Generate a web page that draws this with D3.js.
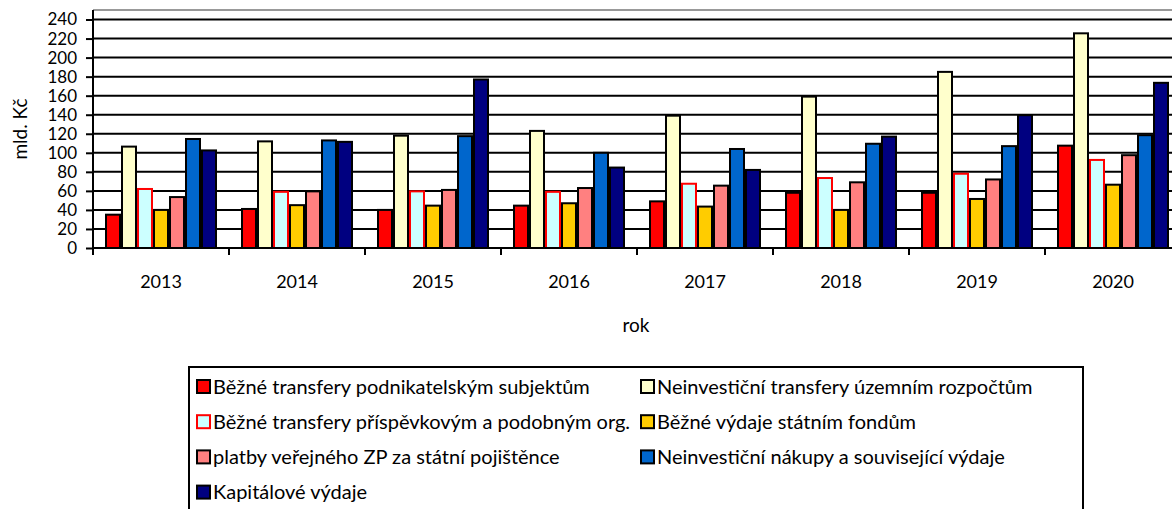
<!DOCTYPE html>
<html>
<head>
<meta charset="utf-8">
<script src="https://cdn.jsdelivr.net/npm/d3@7"></script>
<style>
  body { margin: 0; background: #fff; }
  text { font-family: Lato, "Open Sans", sans-serif; fill: #000; }
</style>
</head>
<body>
<div id="chart"></div>
<script>
// data (mld. Kč)
var years = ["2013", "2014", "2015", "2016", "2017", "2018", "2019", "2020"];
var seriesNames = [
  "Běžné transfery podnikatelským subjektům",
  "Neinvestiční transfery územním rozpočtům",
  "Běžné transfery příspěvkovým a podobným org.",
  "Běžné výdaje státním fondům",
  "platby veřejného ZP za státní pojištěnce",
  "Neinvestiční nákupy a související výdaje",
  "Kapitálové výdaje"
];
var bezneTransferyPodnik = [35, 41, 40, 44.5, 49, 58, 58, 107.5];
var neinvTransferyUzemni = [106.5, 112, 118, 123, 139, 159, 185, 225.5];
var bezneTransferyPrisp  = [62, 59, 59.5, 59, 67.5, 73.5, 78, 92.5];
var bezneVydajeFondy     = [40, 45, 44.5, 47, 43.5, 40, 51.5, 66.5];
var platbyZP             = [53.5, 59.5, 61, 63, 65.5, 69, 72, 97.5];
var neinvNakupy          = [114.5, 113, 117.5, 100, 104, 109.5, 107, 118.5];
var kapitaloveVydaje     = [102.5, 111.5, 177, 84.5, 82, 117, 139.5, 173.5];
var yTicks = [0, 20, 40, 60, 80, 100, 120, 140, 160, 180, 200, 220, 240];

var seriesValues = [bezneTransferyPodnik, neinvTransferyUzemni, bezneTransferyPrisp,
  bezneVydajeFondy, platbyZP, neinvNakupy, kapitaloveVydaje];
var fills   = ["#FF0000", "#FFFFCC", "#CCFFFF", "#FFCC00", "#FF8080", "#0066CC", "#000080"];
var strokes = ["#000", "#000", "#FF0000", "#000", "#000", "#000", "#000"];

var width = 1172, height = 509;
var plot = {left: 93, top: 10, bottom: 248, catW: 136};

var svg = d3.select("#chart").append("svg")
    .attr("width", width)
    .attr("height", height);

var x = d3.scaleBand()
    .domain(years)
    .range([plot.left, plot.left + plot.catW * years.length]);

var xs = d3.scaleBand()
    .domain(d3.range(seriesNames.length))
    .range([12, plot.catW - 12]);

var y = d3.scaleLinear()
    .domain([0, 250])
    .range([plot.bottom, plot.top]);

// plot top border
svg.append("line")
    .attr("x1", plot.left).attr("x2", width)
    .attr("y1", plot.top).attr("y2", plot.top)
    .attr("stroke", "#999").attr("stroke-width", 2);

// gridlines
svg.append("g").selectAll("line")
    .data(yTicks.filter(d => d > 0))
    .enter().append("line")
    .attr("x1", plot.left).attr("x2", width)
    .attr("y1", d => y(d)).attr("y2", d => y(d))
    .attr("stroke", "#000").attr("stroke-width", 2);

// bars
var groups = svg.append("g").selectAll("g")
    .data(seriesValues)
    .enter().append("g");

groups.selectAll("rect")
    .data((vals, si) => vals.map((v, i) => ({v: v, i: i, s: si})))
    .enter().append("rect")
    .attr("x", d => x(years[d.i]) + xs(d.s) + 1)
    .attr("y", d => y(d.v))
    .attr("width", xs.bandwidth() - 2)
    .attr("height", d => y(0) - y(d.v))
    .attr("fill", d => fills[d.s])
    .attr("stroke", d => strokes[d.s])
    .attr("stroke-width", 2);

// y axis
var yAxis = svg.append("g")
    .attr("transform", "translate(" + plot.left + ",0)")
    .call(d3.axisLeft(y).tickValues(yTicks).tickSize(7).tickSizeOuter(0));
yAxis.select(".domain").attr("stroke", "#000").attr("stroke-width", 2)
    .attr("d", "M0," + plot.top + "V" + plot.bottom);
yAxis.selectAll(".tick line").attr("stroke", "#000").attr("stroke-width", 2);
yAxis.selectAll(".tick text")
    .attr("x", -16)
    .style("font-family", "Lato, sans-serif")
    .style("font-size", "17px")
    .attr("fill", "#000");

// x axis
var xAxis = svg.append("g")
    .attr("transform", "translate(0," + plot.bottom + ")")
    .call(d3.axisBottom(x).tickSize(0).tickSizeOuter(0));
xAxis.select(".domain").attr("stroke", "#000").attr("stroke-width", 2)
    .attr("d", "M" + plot.left + ",0H" + width);
xAxis.selectAll(".tick text")
    .attr("y", 27)
    .style("font-family", "Lato, sans-serif")
    .style("font-size", "18px")
    .attr("fill", "#000");
// category boundary ticks
xAxis.append("g").selectAll("line")
    .data(years)
    .enter().append("line")
    .attr("x1", d => x(d)).attr("x2", d => x(d))
    .attr("y1", 0).attr("y2", 7)
    .attr("stroke", "#000").attr("stroke-width", 2);

// axis titles
svg.append("text")
    .attr("text-anchor", "middle")
    .attr("x", 636)
    .attr("y", 332)
    .style("font-size", "19px")
    .text("rok");

svg.append("text")
    .attr("text-anchor", "middle")
    .attr("transform", "translate(27,129) rotate(-90)")
    .style("font-size", "19px")
    .text("mld. Kč");

// legend
var legend = svg.append("g");
legend.append("rect")
    .attr("x", 189).attr("y", 367)
    .attr("width", 894).attr("height", 160)
    .attr("fill", "none")
    .attr("stroke", "#000").attr("stroke-width", 2);

var items = legend.selectAll("g.item")
    .data(seriesNames)
    .enter().append("g")
    .attr("class", "item")
    .attr("transform", (d, i) => "translate(" + (i % 2 === 0 ? 197 : 641) + "," + (386.5 + Math.floor(i / 2) * 35.2) + ")");

items.append("rect")
    .attr("x", 0).attr("y", -6.5)
    .attr("width", 13).attr("height", 13)
    .attr("fill", (d, i) => fills[i])
    .attr("stroke", (d, i) => strokes[i])
    .attr("stroke-width", 2);

items.append("text")
    .attr("x", 16)
    .attr("dy", "0.35em")
    .style("font-size", "20px")
    .text(d => d);
</script>
</body>
</html>
